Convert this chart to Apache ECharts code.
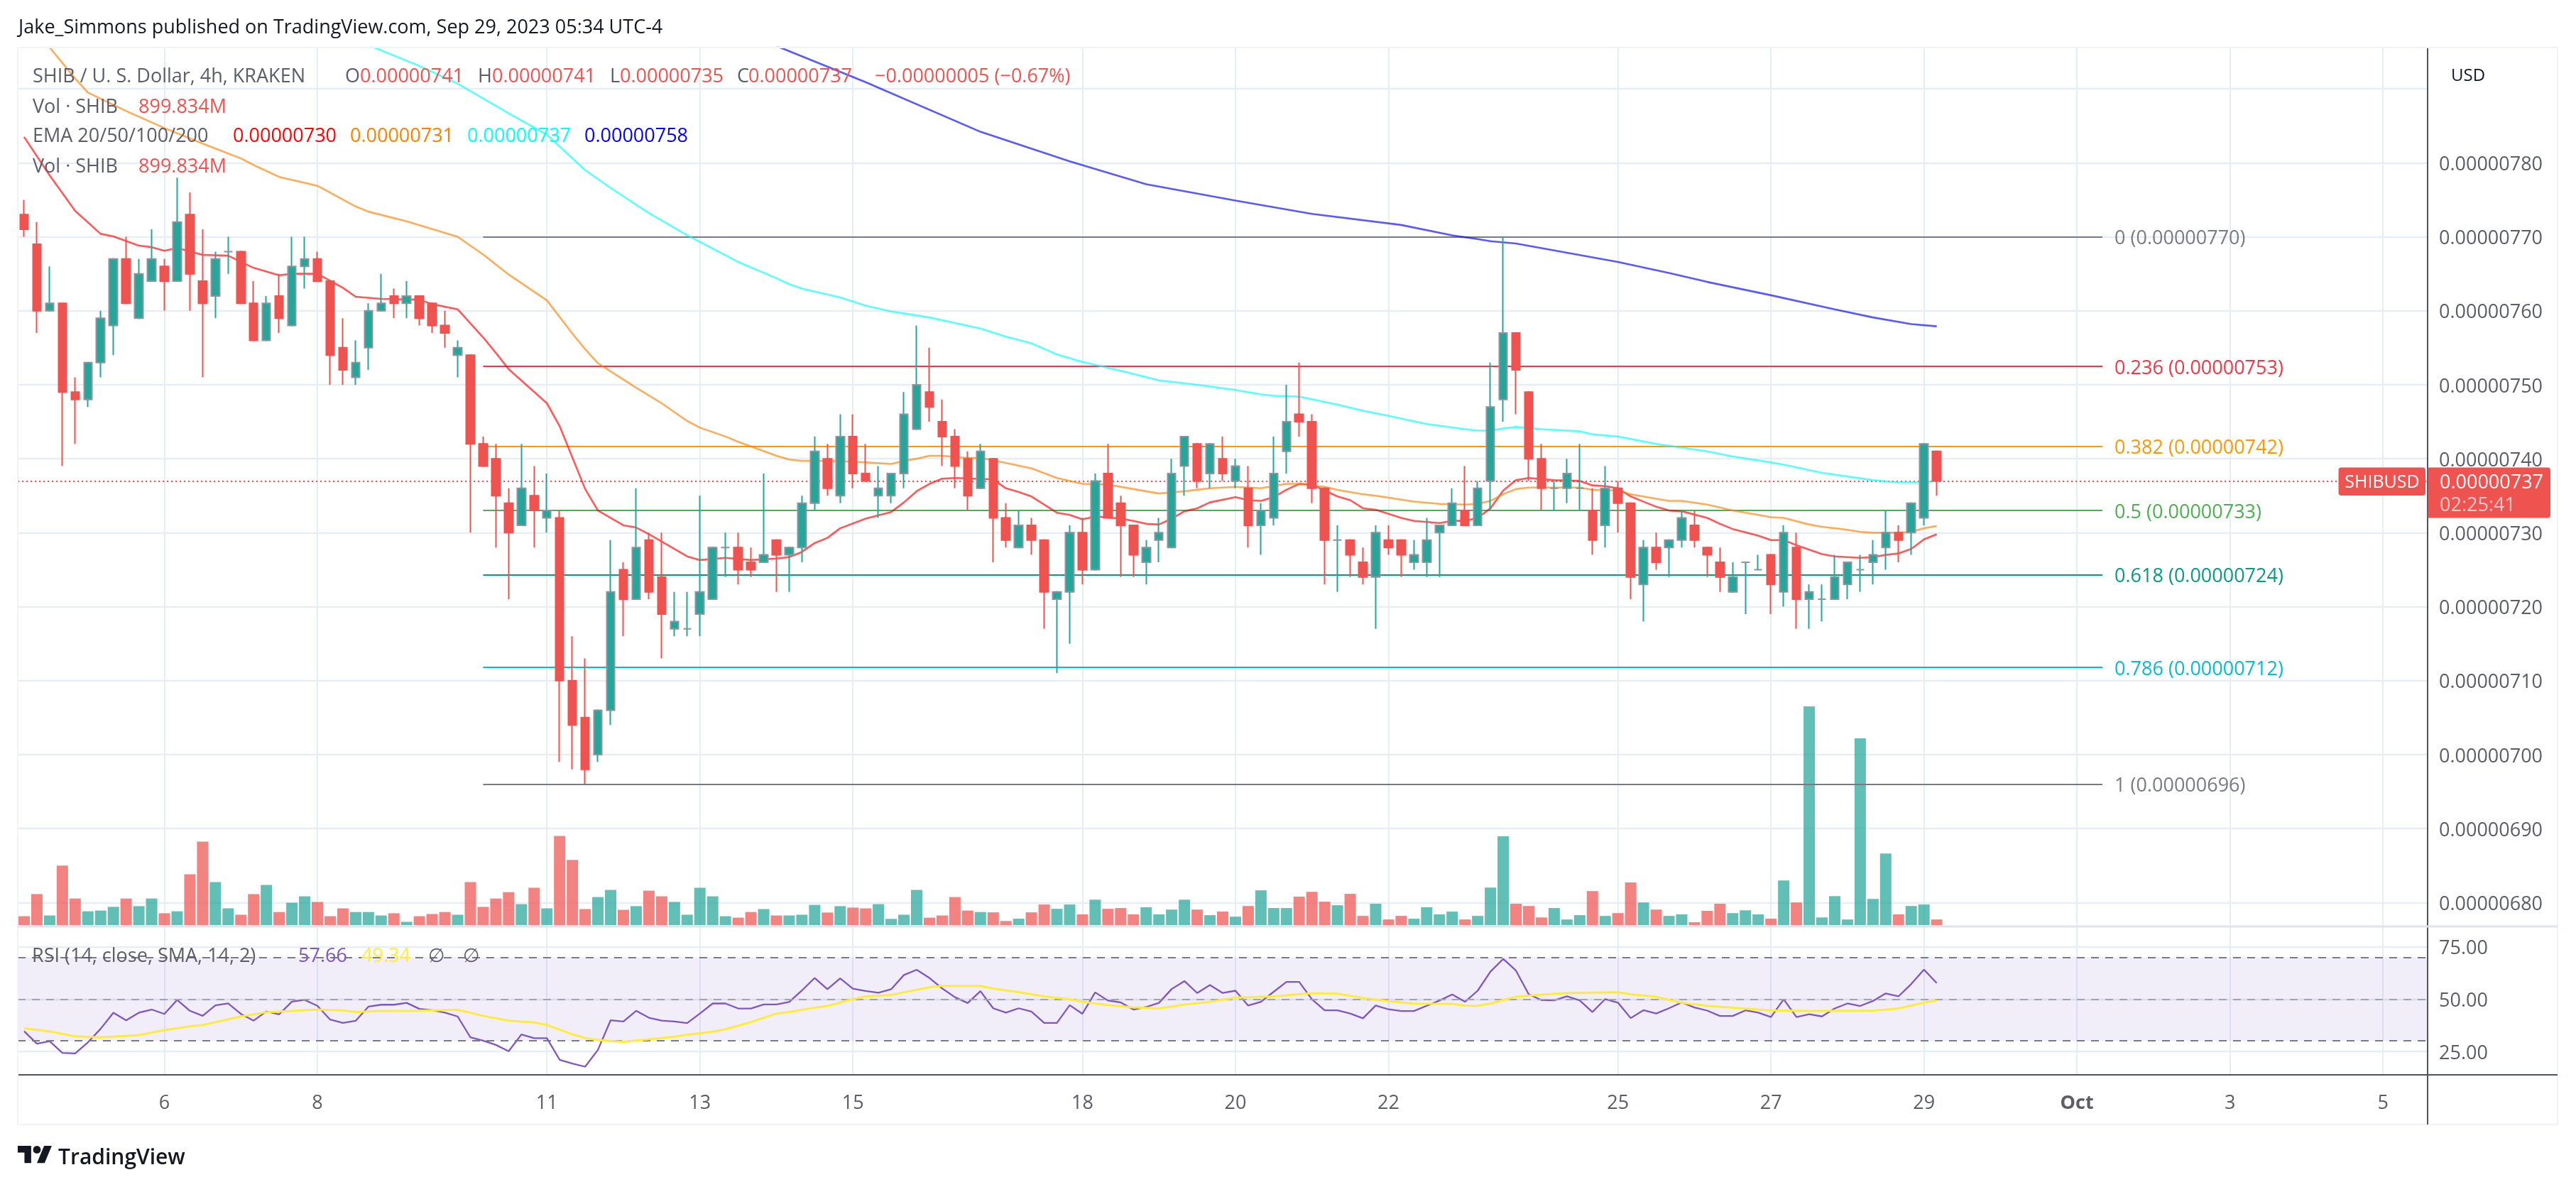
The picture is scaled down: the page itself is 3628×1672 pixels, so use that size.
<!DOCTYPE html>
<html>
<head>
<meta charset="utf-8">
<title>SHIBUSD</title>
<script src="https://cdn.jsdelivr.net/npm/echarts@6/dist/echarts.min.js"></script>
<style>
  html, body { margin: 0; padding: 0; background: #fff; }
  #chart { width: 3628px; height: 1672px; }
</style>
</head>
<body>
<div id="chart"></div>
<script>
// prices are in units of 0.00000001
var candleOpen = [773,769,760,761,749,748,753,758,767,759,764,766,764,773,764,762,768,768,761,756,762,758,766,767,764,755,751,755,760,762,761,762,761,758,754,754,742,740,734,731,735,732,732,710,705,700,706,725,721,729,724,717,717,719,721,728,728,726,726,729,727,728,734,740,735,743,738,735,735,738,744,749,745,743,740,736,740,732,728,731,729,721,722,730,725,738,734,731,726,729,728,739,742,738,740,737,736,731,732,741,746,745,736,729,729,726,724,729,729,726,726,730,731,733,731,737,748,757,749,740,736,736,736,733,731,736,734,723,728,728,729,731,728,726,722,726,725,727,722,728,721,721,721,723,725,726,728,730,730,732,741];
var candleClose = [771,760,761,749,748,753,759,767,761,765,767,764,772,765,761,767,768,761,756,761,759,766,767,764,754,752,753,760,761,761,762,759,758,757,755,742,739,735,730,736,733,733,710,704,698,706,722,721,728,722,719,718,717,722,728,728,725,725,727,727,728,734,741,736,743,738,737,736,738,746,750,747,743,739,735,741,732,729,731,729,722,722,730,725,737,732,731,727,728,730,738,743,737,742,738,739,731,733,738,745,745,736,729,729,727,724,730,728,727,727,729,731,734,731,736,747,757,752,740,736,736,738,736,729,736,734,724,728,726,729,732,729,727,724,724,726,725,723,730,721,722,721,724,726,725,727,730,729,734,742,737];
var candleHigh = [775,772,766,761,751,753,760,767,770,767,771,767,778,776,771,768,770,768,764,762,765,770,770,768,764,759,756,761,765,763,764,762,761,760,756,754,743,742,736,742,739,738,733,716,713,706,729,726,736,730,730,722,722,735,728,730,730,728,738,729,728,735,743,742,746,746,742,739,738,749,758,755,748,744,741,742,740,734,733,732,729,722,731,732,738,742,735,731,729,732,740,743,742,742,743,740,739,734,743,750,753,746,736,731,729,728,731,731,729,729,732,731,736,739,737,753,770,757,749,742,737,740,742,736,739,737,734,729,730,729,733,733,728,728,726,726,727,727,731,730,723,723,727,726,727,729,733,731,734,742,741];
var candleLow = [770,757,760,739,742,747,751,754,761,759,764,760,764,760,751,759,765,761,756,756,757,758,763,764,750,750,750,752,760,759,759,758,757,755,751,730,739,728,721,731,728,730,699,698,696,699,704,716,721,721,713,716,716,716,721,724,723,724,726,722,722,726,733,735,734,736,737,732,734,736,744,745,739,736,733,736,726,728,728,727,717,711,715,723,725,732,724,724,723,726,728,735,736,736,737,736,728,727,731,738,743,734,723,722,724,723,717,727,724,725,724,724,731,731,731,733,745,746,737,733,733,734,733,727,728,730,721,718,725,724,728,728,724,722,722,719,725,719,720,717,717,718,721,721,722,723,725,726,727,731,735];

// volume in millions, one value per bar
var volume = [1426,4990,1544,9583,4277,2218,2336,2930,4277,3049,4277,1901,2218,8197,13464,6930,2693,1663,4990,6455,2099,3604,4633,3722,1426,2693,2099,2099,1544,1901,515,1426,1782,2099,1663,6930,2930,4277,5306,3366,6019,2693,14375,10494,2574,4514,5663,2455,3049,5544,4633,3722,1663,6019,4633,1426,1188,2099,2574,1544,1544,1663,3247,2020,3049,2812,2693,3366,990,1663,5663,1188,1544,4514,2336,2099,2045,654,1022,2045,3313,2618,3313,1718,4090,2618,2740,1718,2863,1718,2495,4090,2495,1595,2168,1350,3068,5603,2740,2740,4581,5358,3763,3190,5031,1472,3436,900,1472,1022,2863,1718,2168,900,1472,6053,14315,3436,3068,1227,2740,900,1595,5481,1472,1922,6871,3640,2495,1472,1718,450,2290,3436,1922,2372,1718,1022,7198,3640,35256,1227,4663,900,30102,4213,11534,1718,3068,3313,900];

var ema20 = [[0,783.5],[2,778.3],[4,773.5],[6,770.4],[7,770.05],[9,768.8],[10,768.6],[11,768.1],[12,768.5],[14,767.55],[16,767.45],[18,765.8],[20,764.8],[21,765],[23,765],[25,763.1],[26,761.9],[28,761.6],[31,761.5],[32,760.9],[34,760.2],[36,756.4],[37,754.3],[38,752.1],[41,747.5],[42,744.4],[44,735.9],[45,733],[47,731],[48,730.7],[49,729.8],[52,726.8],[53,726.3],[55,726.6],[57,726.3],[59,726.5],[60,726.7],[61,727.4],[62,728.6],[63,729.3],[64,730.6],[66,731.9],[68,732.8],[69,734.1],[70,735.6],[71,736.6],[72,737.3],[73,737.4],[76,737.2],[77,736],[78,735.5],[79,734.9],[81,732.7],[82,732.4],[83,731.8],[84,732.2],[86,731.9],[87,731.6],[88,731.2],[89,731.1],[90,731.9],[91,732.9],[92,733.3],[93,734.1],[95,734.8],[96,734.4],[97,734.3],[98,734.8],[99,735.8],[100,736.6],[101,736.5],[102,735.7],[103,734.9],[104,734.4],[105,733.3],[106,733.1],[108,732],[109,731.6],[111,731.3],[112,731.6],[113,731.6],[114,732],[115,733.3],[116,735.7],[117,737.1],[118,737.4],[120,737.1],[122,737],[123,736.4],[124,736.3],[125,736],[126,734.9],[127,734.2],[128,733.5],[129,733],[130,732.9],[132,732],[133,731.2],[134,730.5],[136,729.6],[137,729],[138,729],[139,728.3],[141,727.1],[142,726.8],[144,726.6],[145,726.7],[146,727],[147,727.2],[148,727.8],[149,729.1],[150,729.8]];
var ema50 = [[2,795.6],[4,791.4],[5,789.5],[8,787],[11,784.7],[14,782.6],[17,780.6],[18,779.7],[20,778.1],[22,777.3],[23,776.9],[26,774.1],[27,773.4],[30,772.1],[34,770],[36,767.6],[38,764.9],[41,761.4],[43,756.9],[44,754.8],[45,752.9],[47,750.7],[48,749.6],[50,747.5],[52,745.1],[53,744.2],[55,743],[56,742.3],[59,740.4],[60,739.9],[61,739.7],[63,739.7],[65,739.6],[67,739.4],[68,739.3],[69,739.7],[70,740],[71,740.4],[72,740.4],[74,740.1],[75,740.1],[76,739.8],[79,738.7],[81,737.4],[82,737],[83,736.6],[85,736.5],[87,735.9],[89,735.3],[91,735.6],[92,735.8],[93,736],[95,736.2],[97,736],[99,736.6],[100,736.6],[102,736.2],[103,735.8],[105,735.2],[106,735],[109,734.2],[111,733.9],[113,733.8],[114,733.9],[115,734.3],[116,735.2],[117,735.9],[118,736.1],[120,736.1],[122,736.1],[123,735.8],[125,735.7],[126,735.2],[128,734.6],[129,734.3],[130,734.3],[132,733.8],[134,733],[136,732.4],[137,732.1],[138,732],[140,731.1],[141,730.8],[142,730.6],[143,730.4],[144,730.1],[145,730],[147,730],[148,730.1],[149,730.6],[150,730.9]];
var ema100 = [[27,795.9],[31,793.1],[34,790.7],[38,786.7],[41,783.8],[44,779],[46,776.6],[49,773.2],[52,770.2],[56,766.6],[59,764.4],[60,763.6],[61,763],[64,761.8],[66,760.7],[68,759.9],[71,759.1],[75,757.6],[77,756.5],[79,755.6],[81,754.1],[83,753.1],[86,751.9],[89,750.6],[92,750],[95,749.3],[97,748.7],[98,748.5],[100,748.4],[103,747.3],[105,746.5],[107,745.8],[110,744.7],[113,744],[114,743.8],[115,743.8],[116,744.1],[117,744.3],[119,744],[122,743.7],[123,743.3],[125,743],[128,742],[132,741],[134,740.3],[137,739.5],[138,739.2],[141,738.1],[143,737.6],[145,737.1],[147,736.8],[149,736.8],[150,737]];
var ema200 = [[59,795.8],[66,790.9],[75,784.2],[82,780.2],[88,777.1],[95,774.9],[101,773.1],[108,771.6],[112,770.2],[114,769.7],[115,769.4],[117,769.1],[125,766.6],[129,765.1],[132,763.9],[137,762.1],[142,760.2],[145,759.1],[148,758.2],[150,757.9]];

var rsi = [34.6,28.7,29.9,24.3,24,29.3,35.8,43.5,39.8,43.5,45,42.9,49.6,44.4,42,47,47.9,42.9,39.7,44.1,42.7,48.8,49.6,46.8,40.2,38.6,39.6,46.4,47.3,47.3,48.2,45.3,44.7,43.5,41.7,31.7,30.1,28.1,25.1,33.1,31.3,31.3,21,19.2,17.7,25.7,39.9,39.3,44.4,41.1,39.7,39.3,38.5,43.1,47.9,47.9,45.5,45.5,47.4,47.4,48.6,54.1,60.1,54.7,59.9,55,53.9,53,54.7,61.5,64,60.1,55.1,50.9,48.1,53.8,45.6,43.5,45.6,44,38.6,38.6,47.1,43,53.2,49.3,48.4,45,46.2,48.2,54.8,58.6,52.9,56.7,52.9,54,46.9,48.7,53.5,58.2,58.2,49.9,44.6,44.6,43.1,40.8,46.9,45.1,44.3,44.3,46.8,49.3,52.2,48.7,54,63.1,69.2,63.6,52.3,49.5,49.4,51.3,49.4,43.8,50,48.3,40.9,44.7,43.1,45.6,48.4,46,44.5,41.9,41.9,44.6,43.5,41.4,49.9,41.4,42.8,41.7,45.5,47.9,46.7,49.1,52.7,51.3,57.2,64.1,57.66];
var rsiSma = [[0,36],[2,34.6],[4,32.2],[6,31.7],[9,32.8],[11,35.2],[13,37],[14,37.6],[17,41.7],[19,43.7],[21,44.3],[23,45],[25,44.6],[26,43.8],[28,44.3],[31,44.4],[34,44.9],[36,42],[38,39.7],[40,38.8],[41,37.6],[43,33.2],[44,31.4],[45,30.4],[47,29.6],[49,30.8],[51,32],[52,33],[54,34.4],[55,35.6],[57,39],[59,43.1],[60,43.8],[62,45.9],[63,46.7],[65,50],[66,51.2],[68,52],[70,54.4],[71,55.7],[72,56.3],[75,56.3],[76,55],[78,53.3],[80,51.3],[82,49.9],[83,48.7],[85,47.1],[87,46],[89,45.5],[91,47.4],[93,48.7],[95,50.7],[98,51.3],[101,52.8],[103,52.6],[105,50.5],[107,49],[109,47.8],[112,47.7],[113,46.9],[114,46.8],[115,47.9],[117,51.1],[119,52.1],[121,52.9],[125,53.2],[126,52.3],[128,51.1],[130,48.2],[132,46.8],[135,45.4],[137,44.6],[140,44.3],[142,44.4],[145,44.4],[147,45.5],[149,48.3],[150,49.34]];

var fibLabels = ["0 (0.00000770)","0.236 (0.00000753)","0.382 (0.00000742)","0.5 (0.00000733)","0.618 (0.00000724)","0.786 (0.00000712)","1 (0.00000696)"];
var fibPrices = [770,752.5,741.7,733,724.3,711.8,696];
var fibColors = ["#787b86","#f23645","#ff9800","#4caf50","#089981","#00bcd4","#787b86"];

var dateTickBars = [11,23,41,53,65,83,95,107,125,137,149,161,173,185];
var dateTickLabels = ["6","8","11","13","15","18","20","22","25","27","29","Oct","3","5"];
var priceTicks = [680,690,700,710,720,730,740,750,760,770,780,790];
var priceTickLabels = [680,690,700,710,720,730,740,750,760,770,780];
var rsiTicks = [25,50,75];
var lastPrice = 737;

var UP = "#26a69a", DOWN = "#ef5350", GRID = "#e6eef5", DARK = "#50535e", TEXT = "#5a5d68";
var FONT = '"Open Sans", sans-serif';
var FONT_SIZE = 27;
var LABEL_FONT = FONT_SIZE + 'px "Open Sans"';
var TEXT_NUDGE = 3; // middle alignment sits a little high with this font

var barCount = 189; // bars that fit the time axis, including the empty ones on the right
var categories = [];
for (var n = 0; n < barCount; n++) {
  var at = dateTickBars.indexOf(n);
  categories.push(at >= 0 ? dateTickLabels[at] : "");
}
var isDateTick = function (i) { return dateTickBars.indexOf(i) >= 0; };

var wicks = candleOpen.map(function (o, i) { return [o, candleClose[i], candleLow[i], candleHigh[i]]; });
var bodies = candleOpen.map(function (o, i) {
  var c = candleClose[i];
  return [o, c, Math.min(o, c), Math.max(o, c)];
});
var volumeBars = volume.map(function (v, i) {
  return { value: v, itemStyle: { color: candleClose[i] >= candleOpen[i] ? UP : DOWN } };
});

function xAxis(gridIndex, withLabels) {
  return {
    type: "category",
    gridIndex: gridIndex,
    data: categories,
    boundaryGap: true,
    axisLine: { show: withLabels, onZero: false, lineStyle: { color: DARK, width: 2 } },
    axisTick: { show: false, alignWithLabel: true, interval: isDateTick },
    splitLine: { show: gridIndex !== 1, alignWithLabel: true, interval: isDateTick, lineStyle: { color: GRID, width: 2 } },
    axisLabel: {
      show: withLabels,
      interval: isDateTick,
      margin: 27,
      color: TEXT,
      fontSize: FONT_SIZE,
      fontFamily: FONT,
      formatter: function (v) { return v === "Oct" ? "{b|Oct}" : v; },
      rich: { b: { fontWeight: "bold", fontSize: FONT_SIZE, color: TEXT, fontFamily: FONT } }
    }
  };
}

function ema(name, data, color) {
  return {
    name: name, type: "line", xAxisIndex: 0, yAxisIndex: 0, data: data, z: 3,
    showSymbol: false, symbol: "none", silent: true,
    lineStyle: { color: color, width: 2.6 }
  };
}

function headerText(x, y, text, color, extra) {
  return {
    type: "text", z: 50, silent: true,
    style: Object.assign({ x: x, y: y + TEXT_NUDGE, text: text, fill: color, font: LABEL_FONT, verticalAlign: "middle" }, extra || {})
  };
}
function hLine(x1, x2, y, color, w) {
  return { type: "line", z: 40, silent: true, shape: { x1: x1, y1: y, x2: x2, y2: y }, style: { stroke: color, lineWidth: w } };
}
function vLine(x, y1, y2, color, w) {
  return { type: "line", z: 40, silent: true, shape: { x1: x, y1: y1, x2: x, y2: y2 }, style: { stroke: color, lineWidth: w } };
}

var FRAME = "#f0f3fa", SEP = "#e0e3eb";
var graphics = [
  hLine(25, 3602, 67, FRAME, 2), hLine(25, 3602, 1584, FRAME, 2),
  vLine(25, 67, 1584, FRAME, 2), vLine(3602, 67, 1584, FRAME, 2),
  hLine(25, 3602, 1305, SEP, 3),
  hLine(3419, 3602, 1514, DARK, 2),
  vLine(3419, 1514, 1584, DARK, 2),

  headerText(26, 36, "Jake_Simmons published on TradingView.com, Sep 29, 2023 05:34 UTC-4", "#131722"),

  headerText(46, 105, "SHIB / U. S. Dollar, 4h, KRAKEN", TEXT),
  headerText(486, 105, "O", TEXT), headerText(507, 105, "0.00000741", DOWN),
  headerText(673, 105, "H", TEXT), headerText(693, 105, "0.00000741", DOWN),
  headerText(859, 105, "L", TEXT), headerText(873, 105, "0.00000735", DOWN),
  headerText(1038, 105, "C", TEXT), headerText(1054, 105, "0.00000737", DOWN),
  headerText(1232, 105, "\u22120.00000005 (\u22120.67%)", DOWN),

  headerText(46, 148, "Vol \u00b7 SHIB", TEXT), headerText(195, 148, "899.834M", DOWN),

  headerText(46, 189, "EMA 20/50/100/200", TEXT),
  headerText(328, 189, "0.00000730", "#ff0000"), headerText(493, 189, "0.00000731", "#ff8000"),
  headerText(658, 189, "0.00000737", "#00ffff"), headerText(823, 189, "0.00000758", "#0000ff"),

  headerText(46, 232, "Vol \u00b7 SHIB", TEXT), headerText(195, 232, "899.834M", DOWN),

  headerText(45, 1344, "RSI (14, close, SMA, 14, 2)", TEXT),
  headerText(420, 1344, "57.66", "#7e57c2"), headerText(509, 1344, "49.34", "#ffeb3b"),
  headerText(603, 1344, "\u2205", TEXT), headerText(652, 1344, "\u2205", TEXT),

  headerText(3452, 104, "USD", "#131722", { font: '24px "Open Sans"' }),

  { type: "rect", z: 45, silent: true, shape: { x: 3293.5, y: 658.5, width: 122.5, height: 39.5, r: 4 }, style: { fill: DOWN } },
  { type: "rect", z: 45, silent: true, shape: { x: 3419.5, y: 658.5, width: 172.5, height: 71, r: [0, 4, 4, 0] }, style: { fill: DOWN } },
  headerText(3355, 677, "SHIBUSD", "#fff", { align: "center", font: '25px "Open Sans"' }),
  headerText(3436, 677, "0.00000737", "#fff"),
  headerText(3436, 709, "02:25:41", "rgba(255,255,255,0.7)"),

  // TradingView mark
  { type: "polygon", z: 50, silent: true, x: 25, y: 1608.6, scaleX: 1.35, scaleY: 1.35,
    shape: { points: [[0, 4], [14, 4], [14, 22], [7, 22], [7, 11], [0, 11]] }, style: { fill: "#131722" } },
  { type: "polygon", z: 50, silent: true, x: 25, y: 1608.6, scaleX: 1.35, scaleY: 1.35,
    shape: { points: [[20, 22], [27.5, 4], [35.5, 4], [28, 22]] }, style: { fill: "#131722" } },
  { type: "circle", z: 50, silent: true, shape: { cx: 52, cy: 1619.4, r: 5.4 }, style: { fill: "#131722" } },
  headerText(82, 1628, "TradingView", "#131722", { font: '600 30px "Open Sans"' })
];

var option = {
  animation: false,
  backgroundColor: "#ffffff",
  textStyle: { fontFamily: FONT },
  tooltip: { show: false },
  grid: [
    { left: 25, top: 67, width: 3394, height: 1238 },   // price
    { left: 25, top: 67, width: 3394, height: 1236 },   // volume, sits on the price pane
    { left: 25, top: 1305, width: 3394, height: 209 }   // rsi
  ],
  xAxis: [xAxis(0, false), xAxis(1, false), xAxis(2, true)],
  yAxis: [
    {
      type: "value", gridIndex: 0, position: "right", min: 676.77, max: 795.58, scale: true,
      axisLine: { show: true, lineStyle: { color: DARK, width: 2 } },
      axisTick: { show: false, customValues: priceTicks },
      splitLine: { show: true, lineStyle: { color: GRID, width: 2.4 } },
      axisLabel: {
        customValues: priceTickLabels, margin: 16, color: TEXT, fontSize: FONT_SIZE, fontFamily: FONT,
        verticalAlign: "top", lineHeight: TEXT_NUDGE * 2,
        formatter: function (v) { return (v * 1e-8).toFixed(8); }
      }
    },
    { type: "value", gridIndex: 1, min: 0, max: 141522, show: false },
    {
      type: "value", gridIndex: 2, position: "right", min: 13.8, max: 84.7,
      axisLine: { show: true, lineStyle: { color: DARK, width: 2 } },
      axisTick: { show: false, customValues: rsiTicks },
      splitLine: { show: true, lineStyle: { color: GRID, width: 2.4 } },
      axisLabel: {
        customValues: rsiTicks, margin: 16, color: TEXT, fontSize: FONT_SIZE, fontFamily: FONT,
        verticalAlign: "top", lineHeight: TEXT_NUDGE * 2,
        formatter: function (v) { return v.toFixed(2); }
      }
    }
  ],
  series: [
    {
      name: "Vol", type: "bar", xAxisIndex: 1, yAxisIndex: 1, data: volumeBars, z: 2,
      barWidth: 16, itemStyle: { opacity: 0.72 }, silent: true
    },
    ema("EMA 20", ema20, "rgba(255,0,0,0.65)"),
    ema("EMA 50", ema50, "rgba(255,128,0,0.65)"),
    ema("EMA 100", ema100, "rgba(0,255,255,0.65)"),
    ema("EMA 200", ema200, "rgba(0,0,255,0.65)"),
    {
      // fib levels and the last price line hang on one empty helper series
      name: "Levels", type: "line", xAxisIndex: 0, yAxisIndex: 0, data: [], z: 3, silent: true,
      markLine: {
        silent: true, symbol: "none", animation: false, z: 3,
        data: fibPrices.map(function (p, i) {
          return [
            { coord: [36, p], lineStyle: { color: fibColors[i], width: 2, type: "solid" },
              label: { show: true, position: "end", distance: 17, formatter: fibLabels[i], color: fibColors[i],
                       fontSize: FONT_SIZE, fontFamily: FONT, verticalAlign: "top", lineHeight: TEXT_NUDGE * 2 } },
            { coord: [163, p] }
          ];
        }).concat([{
          yAxis: lastPrice,
          lineStyle: { color: DOWN, width: 2, type: [2, 4] },
          label: { show: false }
        }])
      }
    },
    {
      name: "Wicks", type: "candlestick", xAxisIndex: 0, yAxisIndex: 0, data: wicks, z: 4, silent: true,
      barWidth: 2, progressive: 0,
      itemStyle: { color: UP, color0: DOWN, borderColor: UP, borderColor0: DOWN, borderColorDoji: UP, borderWidth: 2 }
    },
    {
      name: "SHIBUSD", type: "candlestick", xAxisIndex: 0, yAxisIndex: 0, data: bodies, z: 5, silent: true,
      barWidth: 12, progressive: 0,
      itemStyle: { color: UP, color0: DOWN, borderColor: "#8f939d", borderColor0: DOWN, borderColorDoji: "#8f939d", borderWidth: 2 }
    },
    {
      name: "RSI", type: "line", xAxisIndex: 2, yAxisIndex: 2, data: rsi, z: 4, silent: true,
      showSymbol: false, symbol: "none",
      lineStyle: { color: "#7e57c2", width: 2.3 },
      markArea: {
        silent: true,
        itemStyle: { color: "rgba(126,87,194,0.1)" },
        data: [[{ yAxis: 30 }, { yAxis: 70 }]]
      },
      markLine: {
        silent: true, symbol: "none", label: { show: false },
        data: [
          { yAxis: 70, lineStyle: { color: "#787b86", width: 2, type: [11, 9] } },
          { yAxis: 50, lineStyle: { color: "#a3a5ae", width: 2, type: [11, 9] } },
          { yAxis: 30, lineStyle: { color: "#787b86", width: 2, type: [11, 9] } }
        ]
      }
    },
    {
      name: "RSI SMA", type: "line", xAxisIndex: 2, yAxisIndex: 2, data: rsiSma, z: 5, silent: true,
      showSymbol: false, symbol: "none",
      lineStyle: { color: "#ffeb3b", width: 3 }
    }
  ],
  graphic: { elements: graphics }
};

var chart = echarts.init(document.getElementById("chart"), null, { renderer: "canvas", devicePixelRatio: 1 });
chart.setOption(option);
</script>
</body>
</html>
